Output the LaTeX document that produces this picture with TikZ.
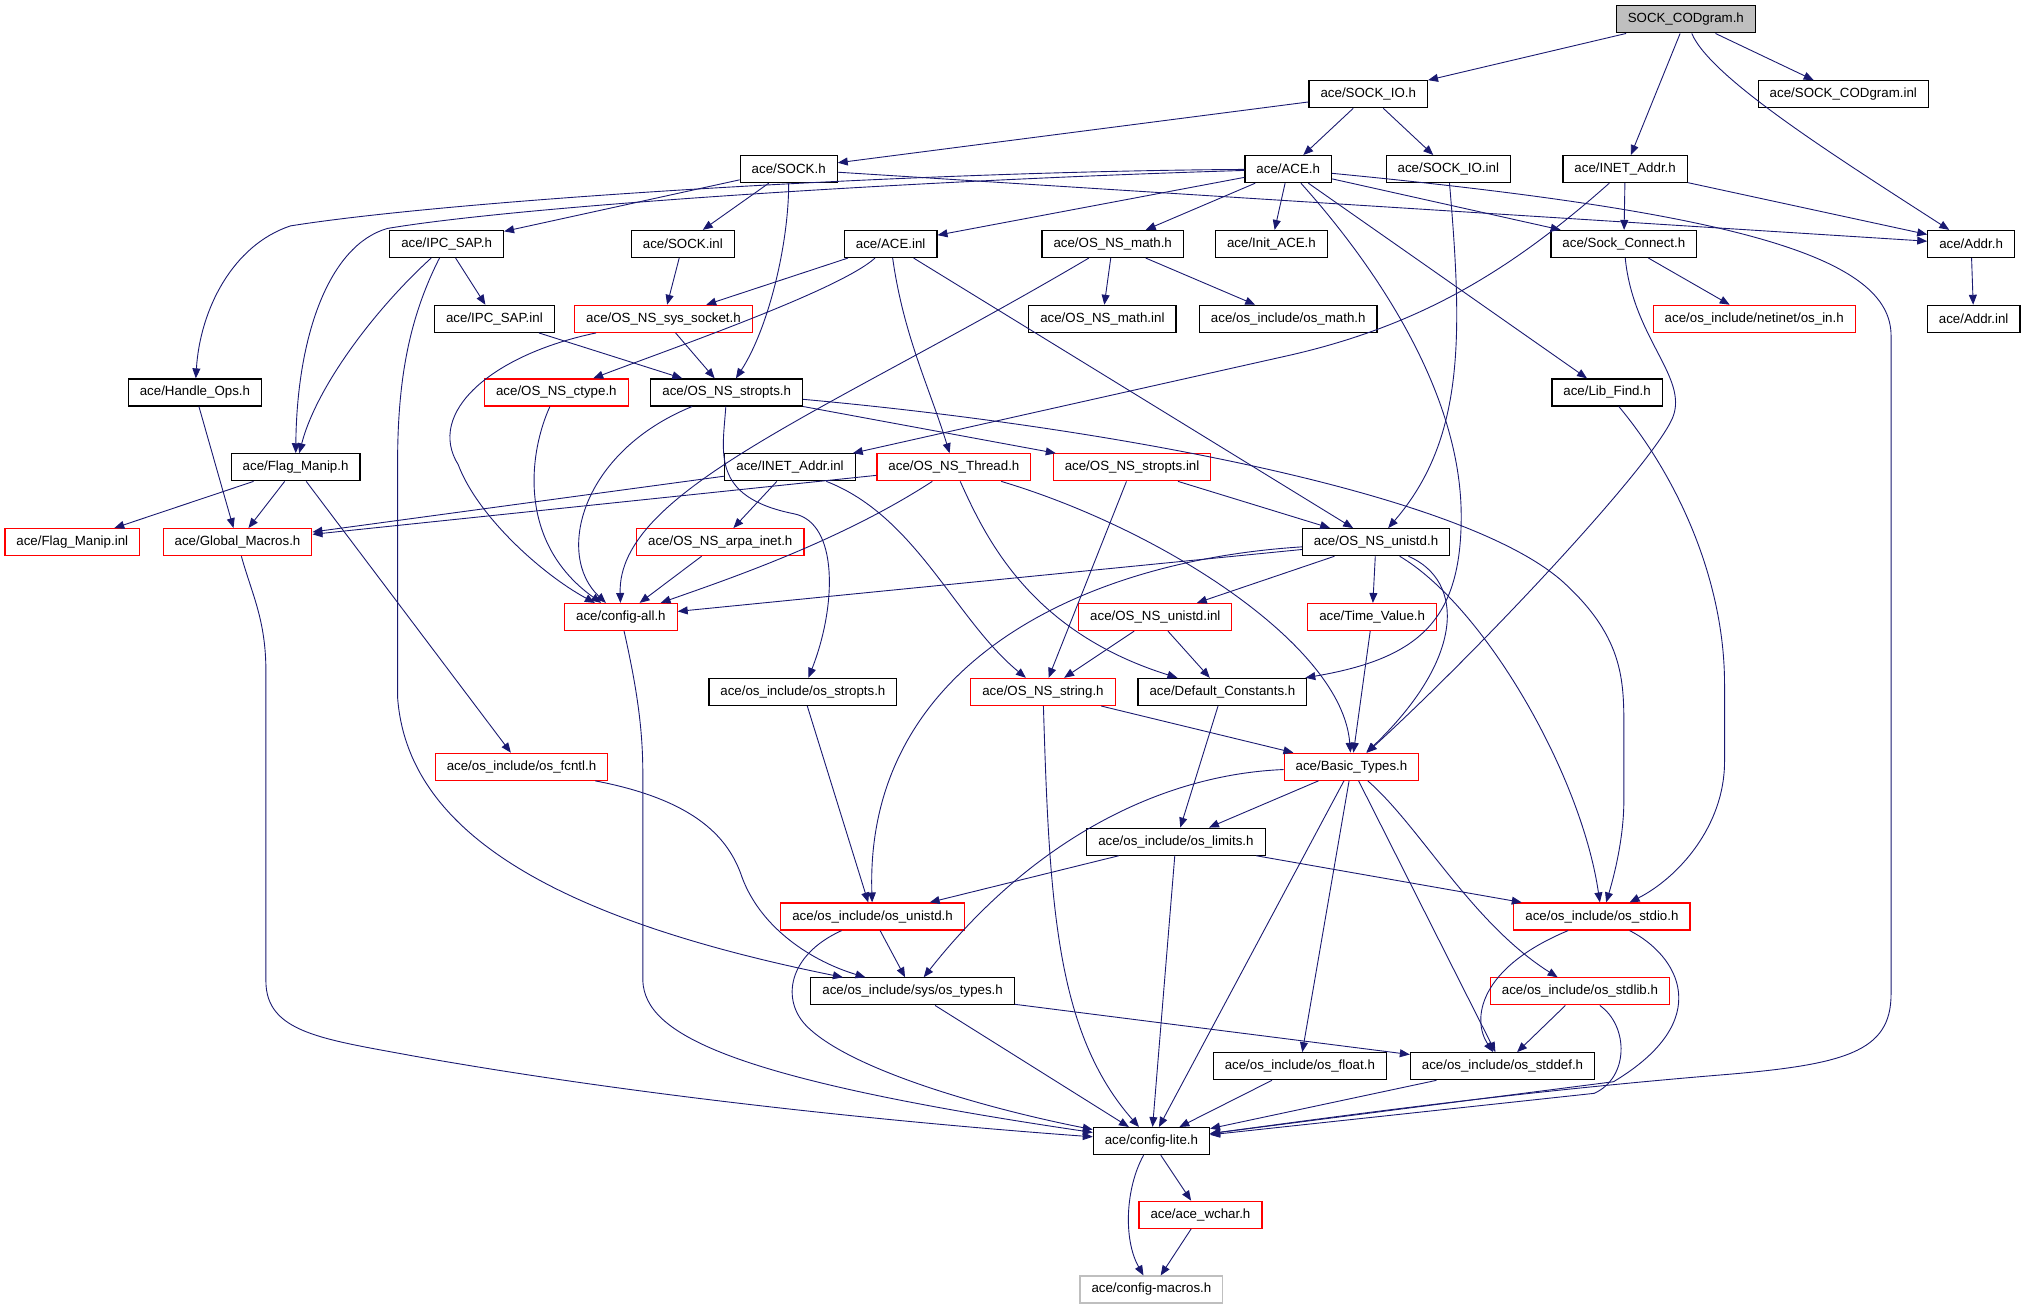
\documentclass[tikz,border=0pt]{standalone}
\usepackage{xcolor}
\usepackage{fontspec}
\usepackage{tikz}
\usetikzlibrary{arrows.meta}
\newfontfamily\hdrfont{Liberation Sans}
\definecolor{edgeblue}{RGB}{25,25,112}

\begin{document}
\begin{tikzpicture}[->,
			>={Triangle[length=5pt, width=4pt]},
			x=0.65pt, y=-0.65pt,
			line width=0.45pt,
			color=edgeblue,
			hdr/.style={draw=black, text=black, line width=0.6pt, inner xsep=5.8pt, inner ysep=0pt,
				minimum height=13.6pt, font={\hdrfont\fontsize{6.7}{8}\selectfont}},
			redhdr/.style={hdr, draw=red},
			tophdr/.style={hdr, fill=black!25},
			extern/.style={hdr, draw=black!25}]

			\useasboundingbox (0,0) rectangle (1568,1012);

			\node[tophdr] (sockcodgram) at (1306,15) {SOCK\_CODgram.h};
			\node[hdr] (sockio) at (1060,73) {ace/SOCK\_IO.h};
			\node[hdr] (sockcodgraminl) at (1428,73) {ace/SOCK\_CODgram.inl};
			\node[hdr] (sock) at (611,131) {ace/SOCK.h};
			\node[hdr] (ace) at (998,131) {ace/ACE.h};
			\node[hdr] (sockioinl) at (1122,131) {ace/SOCK\_IO.inl};
			\node[hdr] (inetaddr) at (1259,131) {ace/INET\_Addr.h};
			\node[hdr] (ipcsap) at (346,189) {ace/IPC\_SAP.h};
			\node[hdr] (sockinl) at (529,189) {ace/SOCK.inl};
			\node[hdr] (aceinl) at (690,189) {ace/ACE.inl};
			\node[hdr] (osnsmath) at (862,189) {ace/OS\_NS\_math.h};
			\node[hdr] (initace) at (985,189) {ace/Init\_ACE.h};
			\node[hdr] (sockconnect) at (1258,189) {ace/Sock\_Connect.h};
			\node[hdr] (addr) at (1527,189) {ace/Addr.h};
			\node[hdr] (ipcsapinl) at (383,247) {ace/IPC\_SAP.inl};
			\node[redhdr] (osnssyssocket) at (514,247) {ace/OS\_NS\_sys\_socket.h};
			\node[hdr] (osnsmathinl) at (854,247) {ace/OS\_NS\_math.inl};
			\node[hdr] (osmath) at (998,247) {ace/os\_include/os\_math.h};
			\node[redhdr] (osin) at (1359,247) {ace/os\_include/netinet/os\_in.h};
			\node[hdr] (addrinl) at (1529,247) {ace/Addr.inl};
			\node[hdr] (handleops) at (151,304) {ace/Handle\_Ops.h};
			\node[redhdr] (osnsctype) at (431,304) {ace/OS\_NS\_ctype.h};
			\node[hdr] (osnsstropts) at (563,304) {ace/OS\_NS\_stropts.h};
			\node[hdr] (libfind) at (1245,304) {ace/Lib\_Find.h};
			\node[hdr] (flagmanip) at (229,362) {ace/Flag\_Manip.h};
			\node[hdr] (inetaddrinl) at (612,362) {ace/INET\_Addr.inl};
			\node[redhdr] (osnsthread) at (739,362) {ace/OS\_NS\_Thread.h};
			\node[redhdr] (osnsstroptsinl) at (877,362) {ace/OS\_NS\_stropts.inl};
			\node[redhdr] (flagmanipinl) at (56,420) {ace/Flag\_Manip.inl};
			\node[redhdr] (globalmacros) at (184,420) {ace/Global\_Macros.h};
			\node[redhdr] (osnsarpainet) at (558,420) {ace/OS\_NS\_arpa\_inet.h};
			\node[hdr] (osnsunistd) at (1066,420) {ace/OS\_NS\_unistd.h};
			\node[redhdr] (configall) at (481,478) {ace/config-all.h};
			\node[redhdr] (osnsunistdinl) at (895,478) {ace/OS\_NS\_unistd.inl};
			\node[redhdr] (timevalue) at (1063,478) {ace/Time\_Value.h};
			\node[hdr] (osstropts) at (622,536) {ace/os\_include/os\_stropts.h};
			\node[redhdr] (osnsstring) at (808,536) {ace/OS\_NS\_string.h};
			\node[hdr] (defconst) at (947,536) {ace/Default\_Constants.h};
			\node[redhdr] (osfcntl) at (404,594) {ace/os\_include/os\_fcntl.h};
			\node[redhdr] (basictypes) at (1047,594) {ace/Basic\_Types.h};
			\node[hdr] (oslimits) at (911,652) {ace/os\_include/os\_limits.h};
			\node[redhdr] (osunistd) at (676,710) {ace/os\_include/os\_unistd.h};
			\node[redhdr] (osstdio) at (1241,710) {ace/os\_include/os\_stdio.h};
			\node[hdr] (ostypes) at (707,768) {ace/os\_include/sys/os\_types.h};
			\node[redhdr] (osstdlib) at (1224,768) {ace/os\_include/os\_stdlib.h};
			\node[hdr] (osfloat) at (1007,826) {ace/os\_include/os\_float.h};
			\node[hdr] (osstddef) at (1164,826) {ace/os\_include/os\_stddef.h};
			\node[hdr] (configlite) at (892,884) {ace/config-lite.h};
			\node[redhdr] (acewchar) at (930,941) {ace/ace\_wchar.h};
			\node[extern] (configmacros) at (892,999) {ace/config-macros.h};

			\draw (sockcodgram) -- (sockio);
			\draw (sockcodgram) -- (inetaddr);
			\draw (sockcodgram) .. controls (1325,60) and (1420,120) .. (addr);
			\draw (sockcodgram) -- (sockcodgraminl);
			\draw (sockio) -- (sock);
			\draw (sockio) -- (ace);
			\draw (sockio) -- (sockioinl);
			\draw (sock) -- (ipcsap);
			\draw (sock) -- (sockinl);
			\draw (sock) .. controls (611,190) and (595,255) .. (osnsstropts);
			\draw (sock) -- (addr);
			\draw (ace) .. controls (700,140) and (400,160) .. (300,177) .. controls (255,190) and (230,260) .. (flagmanip);
			\draw (ace) .. controls (700,133) and (350,155) .. (225,175) .. controls (180,190) and (155,240) .. (handleops);
			\draw (ace) -- (aceinl);
			\draw (ace) -- (osnsmath);
			\draw (ace) -- (initace);
			\draw (ace) -- (sockconnect);
			\draw (ace) -- (libfind);
			\draw (ace) .. controls (1060,200) and (1132,300) .. (1132,400) .. controls (1132,480) and (1100,510) .. (defconst);
			\draw (ace) .. controls (1350,165) and (1465,200) .. (1465,260) -- (1465,770) .. controls (1465,815) and (1430,825) .. (1330,833) .. controls (1150,848) and (1000,870) .. (configlite);
			\draw (aceinl) -- (osnssyssocket);
			\draw (aceinl) .. controls (650,225) and (520,270) .. (osnsctype);
			\draw (aceinl) .. controls (700,260) and (720,300) .. (osnsthread);
			\draw (aceinl) -- (osnsunistd);
			\draw (osnsmath) -- (osnsmathinl);
			\draw (osnsmath) -- (osmath);
			\draw (osnsmath) .. controls (640,320) and (478,380) .. (configall);
			\draw (inetaddr) -- (sockconnect);
			\draw (inetaddr) -- (addr);
			\draw (inetaddr) .. controls (1170,210) and (1100,252) .. (1000,275) -- (inetaddrinl);
			\draw (sockconnect) -- (osin);
			\draw (sockconnect) .. controls (1265,260) and (1305,290) .. (1297,320) .. controls (1290,350) and (1150,500) .. (basictypes);
			\draw (addr) -- (addrinl);
			\draw (sockioinl) .. controls (1133,260) and (1135,340) .. (osnsunistd);
			\draw (ipcsap) -- (ipcsapinl);
			\draw (ipcsap) .. controls (290,240) and (245,300) .. (flagmanip);
			\draw (ipcsap) .. controls (315,250) and (308,300) .. (308,360) -- (308,540) .. controls (315,640) and (420,710) .. (ostypes);
			\draw (sockinl) -- (osnssyssocket);
			\draw (ipcsapinl) -- (osnsstropts);
			\draw (osnssyssocket) -- (osnsstropts);
			\draw (osnssyssocket) .. controls (380,275) and (330,320) .. (355,360) .. controls (370,400) and (420,445) .. (configall);
			\draw (osnsstropts) .. controls (450,350) and (430,430) .. (configall);
			\draw (osnsctype) .. controls (410,350) and (400,420) .. (configall);
			\draw (osnsstropts) .. controls (560,350) and (550,385) .. (615,398) .. controls (650,405) and (648,470) .. (osstropts);
			\draw (osnsstropts) -- (osnsstroptsinl);
			\draw (osnsstropts) .. controls (850,330) and (1130,380) .. (1210,450) .. controls (1260,495) and (1258,530) .. (1258,570) -- (1258,620) .. controls (1258,650) and (1250,680) .. (osstdio);
			\draw (handleops) -- (globalmacros);
			\draw (flagmanip) -- (flagmanipinl);
			\draw (flagmanip) -- (globalmacros);
			\draw (flagmanip) -- (osfcntl);
			\draw (inetaddrinl) -- (globalmacros);
			\draw (inetaddrinl) -- (osnsarpainet);
			\draw (inetaddrinl) .. controls (710,400) and (740,480) .. (osnsstring);
			\draw (osnsthread) -- (globalmacros);
			\draw (osnsthread) .. controls (650,420) and (560,450) .. (configall);
			\draw (osnsthread) .. controls (765,420) and (800,490) .. (defconst);
			\draw (osnsthread) .. controls (900,410) and (1040,500) .. (basictypes);
			\draw (osnsstroptsinl) -- (osnsunistd);
			\draw (osnsstroptsinl) -- (osnsstring);
			\draw (libfind) .. controls (1300,370) and (1336,450) .. (1336,530) -- (1336,590) .. controls (1336,640) and (1300,680) .. (osstdio);
			\draw (globalmacros) .. controls (195,460) and (206,480) .. (206,520) -- (206,760) .. controls (206,800) and (250,805) .. (320,818) .. controls (500,850) and (700,870) .. (configlite);
			\draw (osnsarpainet) -- (configall);
			\draw (osnsunistd) -- (configall);
			\draw (osnsunistd) .. controls (830,435) and (670,520) .. (osunistd);
			\draw (osnsunistd) -- (osnsunistdinl);
			\draw (osnsunistd) -- (timevalue);
			\draw (osnsunistd) .. controls (1135,450) and (1135,510) .. (basictypes);
			\draw (osnsunistd) .. controls (1150,470) and (1225,600) .. (osstdio);
			\draw (osnsunistdinl) -- (osnsstring);
			\draw (osnsunistdinl) -- (defconst);
			\draw (timevalue) -- (basictypes);
			\draw (configall) .. controls (495,540) and (498,570) .. (498,600) -- (498,760) .. controls (500,800) and (560,835) .. (configlite);
			\draw (osstropts) -- (osunistd);
			\draw (osnsstring) -- (basictypes);
			\draw (osnsstring) .. controls (813,700) and (818,800) .. (configlite);
			\draw (defconst) -- (oslimits);
			\draw (osfcntl) .. controls (540,620) and (565,650) .. (575,680) .. controls (590,720) and (630,745) .. (ostypes);
			\draw (basictypes) -- (oslimits);
			\draw (basictypes) .. controls (900,600) and (800,650) .. (ostypes);
			\draw (basictypes) -- (configlite);
			\draw (basictypes) -- (osfloat);
			\draw (basictypes) -- (osstddef);
			\draw (basictypes) .. controls (1100,640) and (1140,715) .. (osstdlib);
			\draw (oslimits) -- (osunistd);
			\draw (oslimits) -- (osstdio);
			\draw (oslimits) -- (configlite);
			\draw (osunistd) -- (ostypes);
			\draw (osunistd) .. controls (610,740) and (605,775) .. (625,795) .. controls (660,830) and (770,860) .. (configlite);
			\draw (ostypes) -- (configlite);
			\draw (ostypes) -- (osstddef);
			\draw (osstdio) .. controls (1145,750) and (1140,790) .. (osstddef);
			\draw (osstdio) .. controls (1300,740) and (1330,790) .. (1250,838) -- (configlite);
			\draw (osstdlib) -- (osstddef);
			\draw (osstdlib) .. controls (1262,795) and (1262,835) .. (1235,847) -- (configlite);
			\draw (osfloat) -- (configlite);
			\draw (osstddef) -- (configlite);
			\draw (configlite) -- (acewchar);
			\draw (configlite) .. controls (872,920) and (870,960) .. (configmacros);
			\draw (acewchar) -- (configmacros);
		\end{tikzpicture}
\end{document}
